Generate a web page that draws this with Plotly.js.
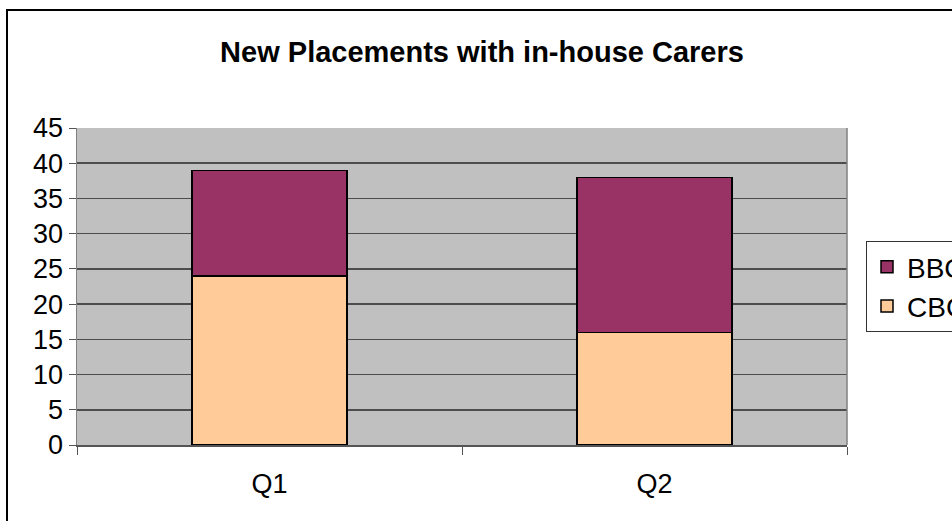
<!DOCTYPE html>
<html><head><meta charset="utf-8">
<script src="https://cdn.plot.ly/plotly-3.0.1.min.js"></script>
<style>html,body{margin:0;padding:0;overflow:hidden;background:#fff;width:952px;height:521px}</style>
</head><body>
<div id="chart" style="width:1000px;height:560px"></div>
<script>
const categories = ["Q1", "Q2"];
const cbcValues = [24, 16];
const bbcValues = [15, 22];
const seriesNames = ["CBC", "BBC"];
const yTicks = [0, 5, 10, 15, 20, 25, 30, 35, 40, 45];

const FONT = "Arial, 'Liberation Sans', sans-serif";
const W = 1000, H = 560;
const L = 77, T = 128, R = W - 847, B = H - 445;
const pw = W - L - R, ph = H - T - B;
const px = v => (v - L) / pw;
const py = v => (H - B - v) / ph;

const traces = [
  {type: "bar", name: seriesNames[0], x: categories, y: cbcValues,
   marker: {color: "#FFCC99", line: {color: "#000000", width: 1.5}}},
  {type: "bar", name: seriesNames[1], x: categories, y: bbcValues,
   marker: {color: "#993366", line: {color: "#000000", width: 1.5}}}
];

const layout = {
  width: W, height: H,
  margin: {l: L, r: R, t: T, b: B, pad: 0},
  barmode: "stack", bargap: 0.597,
  paper_bgcolor: "#ffffff", plot_bgcolor: "#C0C0C0",
  font: {family: FONT, color: "#000000", size: 26},
  title: {text: "<b>New Placements with in-house Carers</b>",
          font: {family: FONT, size: 29, color: "#000"},
          xref: "paper", x: px(482), xanchor: "center",
          yref: "container", y: 1 - 52 / H, yanchor: "middle"},
  xaxis: {type: "category", tickson: "boundaries", ticks: "outside", ticklen: 8,
          tickcolor: "#555555", tickwidth: 1, showline: true, linecolor: "#555555", linewidth: 1.5,
          mirror: false, showgrid: false, ticklabelstandoff: 14,
          tickfont: {family: FONT, size: 27, color: "#000"}, fixedrange: true},
  yaxis: {range: [0, 45], tickvals: yTicks, ticktext: yTicks.map(String), ticks: "outside", ticklen: 7,
          tickcolor: "#555555", tickwidth: 1, showline: true, linecolor: "#808080", linewidth: 1.5,
          showgrid: true, gridcolor: "#4d4d4d", gridwidth: 1.5, zeroline: false,
          tickfont: {family: FONT, size: 27, color: "#000"}, fixedrange: true},
  legend: {x: px(866), xanchor: "left", y: 0.5, yanchor: "middle", traceorder: "reversed",
           bgcolor: "#ffffff", bordercolor: "#333333", borderwidth: 1,
           font: {family: FONT, size: 28, color: "#000"}, itemwidth: 30},
  shapes: [
    {type: "line", xref: "paper", yref: "paper", x0: 1, x1: 1, y0: 0, y1: 1,
     line: {color: "#808080", width: 1.5}},
    {type: "rect", xref: "paper", yref: "paper", x0: px(7), x1: px(1100), y0: py(700), y1: py(10),
     line: {color: "#000000", width: 2}, fillcolor: "rgba(0,0,0,0)", layer: "above"}
  ],
  showlegend: true
};

Plotly.newPlot("chart", traces, layout, {displayModeBar: false, staticPlot: true});
</script>
</body></html>
